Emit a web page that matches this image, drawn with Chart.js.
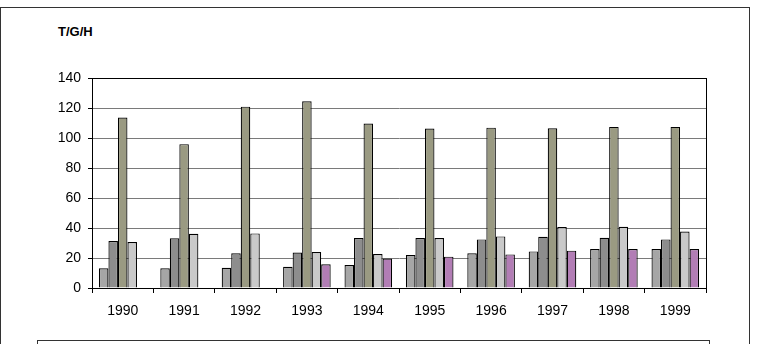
<!DOCTYPE html>
<html>
<head>
<meta charset="utf-8">
<script src="https://cdn.jsdelivr.net/npm/chart.js@4/dist/chart.umd.min.js"></script>
<style>
  html, body { margin: 0; padding: 0; background: #fff; }
  #wrap { position: relative; width: 766px; height: 344px; overflow: hidden; font-family: "Liberation Sans", Arial, sans-serif; }
  #frame { position: absolute; left: 0; top: 7px; width: 750px; height: 400px; border: 1.5px solid #333; box-sizing: border-box; }
  #unit { position: absolute; left: 58px; top: 24px; font-size: 13px; font-weight: bold; color: #000; }
  #legendBox { position: absolute; left: 37px; top: 340px; width: 673px; height: 40px; border: 1px solid #333; box-sizing: border-box; }
  canvas { position: absolute; left: 0; top: 0; }
</style>
</head>
<body>
<div id="wrap">
  <div id="frame"></div>
  <div id="unit">T/G/H</div>
  <div id="legendBox"></div>
  <canvas id="chart" width="766" height="344"></canvas>
</div>
<script>
const years = ['1990', '1991', '1992', '1993', '1994', '1995', '1996', '1997', '1998', '1999'];
const series1 = [13.1, 13.1, 13.5, 14.2, 15.3, 22.0, 23.1, 24.4, 26.0, 26.0];
const series2 = [31.3, 33.1, 23.1, 23.7, 33.3, 33.3, 32.4, 34.2, 33.5, 32.4];
const series3 = [113.6, 95.9, 120.9, 124.5, 109.6, 106.3, 106.9, 106.5, 107.4, 107.4];
const series4 = [30.6, 36.2, 36.4, 24.0, 22.6, 33.3, 34.4, 40.6, 40.8, 37.7];
const series5 = [null, null, null, 15.8, 19.7, 20.9, 22.4, 24.9, 26.0, 26.0];
const yTicks = [0, 20, 40, 60, 80, 100, 120, 140];

const seriesColors = ['#a6a6a6', '#8d8d8d', '#9a9a82', '#c9c9c9', '#b27db5'];

// box around the plot area, like the Excel plot frame
const plotFrame = {
  id: 'plotFrame',
  afterDraw(chart) {
    const a = chart.chartArea;
    const c = chart.ctx;
    c.save();
    c.strokeStyle = '#000';
    c.lineWidth = 1;
    c.strokeRect(Math.round(a.left) + 0.5, Math.round(a.top) + 0.5, Math.round(a.right - a.left), Math.round(a.bottom - a.top));
    c.restore();
  }
};

function ds(data, i) {
  return {
    data: data,
    backgroundColor: seriesColors[i],
    borderColor: '#000',
    borderWidth: 1.2,
    categoryPercentage: 0.775,
    barPercentage: 1.0
  };
}

new Chart(document.getElementById('chart').getContext('2d'), {
  type: 'bar',
  data: {
    labels: years,
    datasets: [ds(series1, 0), ds(series2, 1), ds(series3, 2), ds(series4, 3), ds(series5, 4)]
  },
  options: {
    responsive: false,
    animation: false,
    layout: { padding: { left: 0, right: 60, top: 78, bottom: 0 } },
    plugins: { legend: { display: false }, tooltip: { enabled: false } },
    scales: {
      x: {
        offset: true,
        grid: { display: true, drawOnChartArea: false, drawTicks: true, tickLength: 5, color: '#000', offset: true },
        border: { display: true, color: '#000', width: 1 },
        ticks: { color: '#000', font: { family: '"Liberation Sans", Arial', size: 14 }, padding: 10, maxRotation: 0 },
        afterFit(scale) { scale.height = 56; }
      },
      y: {
        min: 0,
        max: 140,
        afterBuildTicks(scale) { scale.ticks = yTicks.map(v => ({ value: v })); },
        grid: { color: '#7a7a7a', lineWidth: 1, tickColor: '#000', tickLength: 4 },
        border: { display: true, color: '#000', width: 1 },
        ticks: { color: '#000', font: { family: '"Liberation Sans", Arial', size: 14 }, padding: 7 },
        afterFit(scale) { scale.width = 92; }
      }
    }
  },
  plugins: [plotFrame]
});
</script>
</body>
</html>
